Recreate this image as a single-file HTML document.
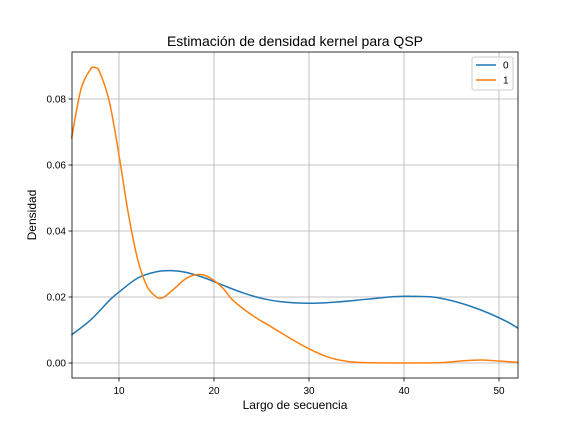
<!DOCTYPE html>
<html><head><meta charset="utf-8"><style>
body{margin:0;background:#fff;font-family:"Liberation Sans","DejaVu Sans",sans-serif}
</style></head><body>
<svg id="c" width="576" height="432" xmlns="http://www.w3.org/2000/svg"></svg>
<script>
const xs0=[5,7,9,10,12,14,15.5,17,19,21,23,25,27,30,33,36,39,41,43,45,47,49,51,52];
const ys0=[0.0085,0.013,0.019,0.0215,0.0258,0.0277,0.028,0.0275,0.0258,0.0235,0.0213,0.0196,0.0186,0.0181,0.0185,0.0193,0.0201,0.0202,0.02,0.0189,0.0172,0.015,0.0123,0.0105];
const xs1=[5,6,7,7.5,8,9,10,11,12,13,14,14.5,15,16,17,18,19,20,21,22,24,26,28,30,32,34,36,40,44,46,48,50,52];
const ys1=[0.068,0.083,0.089,0.0895,0.088,0.079,0.063,0.045,0.031,0.023,0.0199,0.0197,0.0205,0.023,0.0255,0.0267,0.0266,0.025,0.0225,0.019,0.0145,0.011,0.0075,0.0043,0.0018,0.0005,0.0001,0,0.0001,0.0006,0.0009,0.0006,0.0002];
const xTicks=[10,20,30,40,50];
const yTicks=[0,0.02,0.04,0.06,0.08];
const yTickLabels=["0.00","0.02","0.04","0.06","0.08"];
const L=72,R=518,T=52,B=378;
const X=v=>71.5+(v-5)*9.5;
const Y=v=>363-v*3300;
const svg=document.getElementById('c');
const NS='http://www.w3.org/2000/svg';
function mk(t,a,txt){const e=document.createElementNS(NS,t);for(const k in a)e.setAttribute(k,a[k]);if(txt!=null)e.textContent=txt;svg.appendChild(e);return e;}
xTicks.forEach(t=>{
 const g=mk('line',{x1:X(t),x2:X(t),y1:T,y2:B,stroke:'#b0b0b0','stroke-width':0.8});
 
 
 mk('line',{x1:X(t),x2:X(t),y1:B,y2:B+3.5,stroke:'#000','stroke-width':0.8});
 const l=mk('text',{x:X(t),y:B+16,'font-size':10,'text-anchor':'middle'},String(t));
 
 
});
yTicks.forEach((t,i)=>{
 const g=mk('line',{x1:L,x2:R,y1:Y(t),y2:Y(t),stroke:'#b0b0b0','stroke-width':0.8});
 
 
 mk('line',{x1:L-3.5,x2:L,y1:Y(t),y2:Y(t),stroke:'#000','stroke-width':0.8});
 const l=mk('text',{x:L-6,y:Y(t)+3.5,'font-size':10,'text-anchor':'end'},yTickLabels[i]);
 
 
});
function line(xs,ys,col,name){
 const P=xs.map((x,i)=>[X(x),Y(ys[i])]);
 let d='M'+P[0][0].toFixed(2)+','+P[0][1].toFixed(2);
 for(let i=0;i<P.length-1;i++){
  const p0=P[Math.max(i-1,0)],p1=P[i],p2=P[i+1],p3=P[Math.min(i+2,P.length-1)];
  const c1=[p1[0]+(p2[0]-p0[0])/6,p1[1]+(p2[1]-p0[1])/6];
  const c2=[p2[0]-(p3[0]-p1[0])/6,p2[1]-(p3[1]-p1[1])/6];
  d+='C'+c1.map(v=>v.toFixed(2)).join(',')+' '+c2.map(v=>v.toFixed(2)).join(',')+' '+p2[0].toFixed(2)+','+p2[1].toFixed(2);
 }
 const p=mk('path',{d:d,fill:'none',stroke:col,'stroke-width':1.5,'stroke-linejoin':'round'});
 
 
}
line(xs0,ys0,'#1f77b4','series-0-line');
line(xs1,ys1,'#ff7f0e','series-1-line');
const fr=mk('rect',{x:L,y:T,width:R-L,height:B-T,fill:'none',stroke:'#000','stroke-width':0.8});


const t=mk('text',{x:295,y:46,'font-size':14,'text-anchor':'middle'},'Estimación de densidad kernel para QSP');


const xl=mk('text',{x:295,y:409,'font-size':12,'text-anchor':'middle'},'Largo de secuencia');


const yl=mk('text',{x:36,y:215,'font-size':12,'text-anchor':'middle',transform:'rotate(-90 36 215)'},'Densidad');


const lg=mk('rect',{x:472,y:57,width:41,height:33,fill:'#fff','fill-opacity':0.8,stroke:'#ccc','stroke-width':1,rx:2});


[['0','#1f77b4',65],['1','#ff7f0e',80]].forEach(([n,c,y])=>{
 const s=mk('line',{x1:476,x2:496,y1:y,y2:y,stroke:c,'stroke-width':1.5});
 
 
 const tx=mk('text',{x:503,y:y+3.5,'font-size':10},n);
 
 
});
</script>
</body></html>
